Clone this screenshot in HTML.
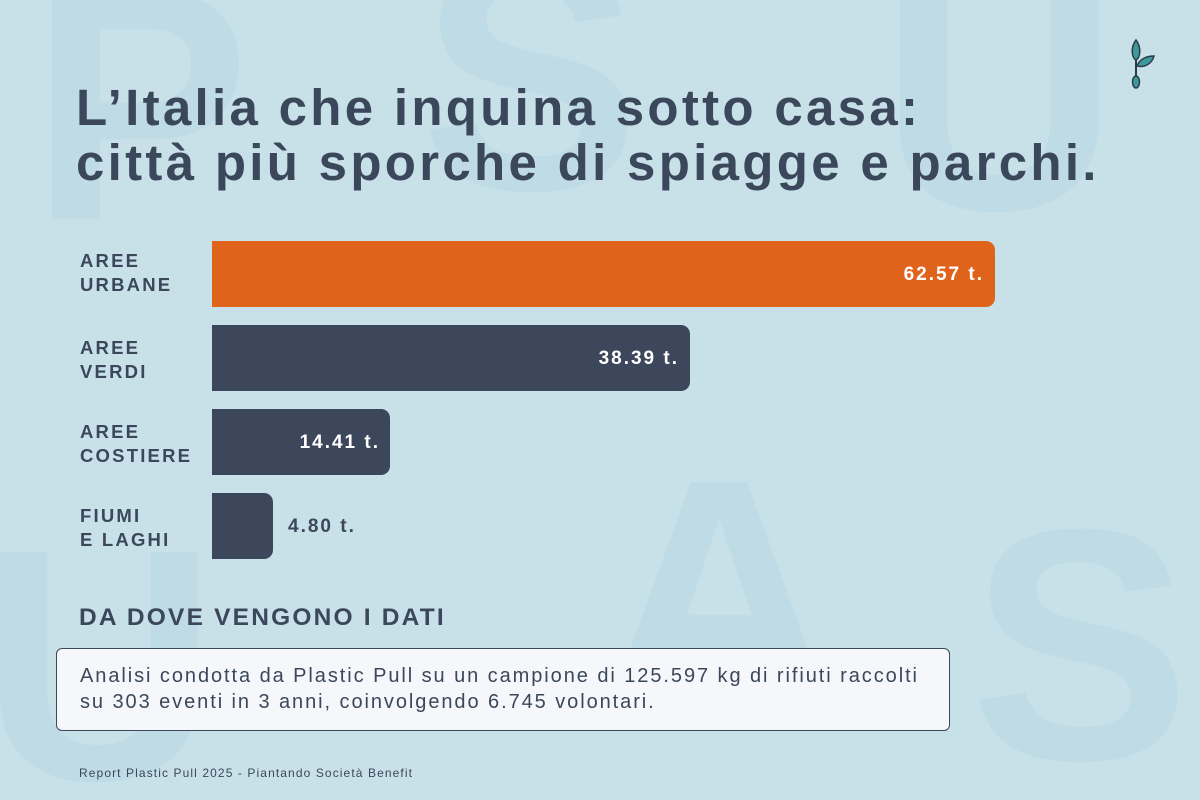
<!DOCTYPE html>
<html><head><meta charset="utf-8"><style>
body{margin:0;}
#c{position:relative;width:1200px;height:800px;overflow:hidden;background:#c8e1e9;font-family:"Liberation Sans",sans-serif;color:#3b475a;}
.bg{position:absolute;color:#bfdbe5;font-weight:bold;font-size:330px;line-height:1;}
.t{position:absolute;left:76px;font-weight:bold;font-size:51px;letter-spacing:3.3px;white-space:nowrap;}
.lab{position:absolute;left:80px;font-weight:bold;font-size:18.5px;line-height:24px;letter-spacing:2.2px;}
.bar{position:absolute;left:212px;height:66px;background:#3d475b;border-radius:0 9px 9px 0;}
.v{position:absolute;font-weight:bold;font-size:19px;color:#fff;line-height:68px;letter-spacing:2px;}
</style></head><body><div id="c">
<div class="bg" style="left:30px;top:-60px">P</div>
<div class="bg" style="left:420px;top:-90px">S</div>
<div class="bg" style="left:880px;top:-70px">U</div>
<div class="bg" style="left:-20px;top:500px">U</div>
<div class="bg" style="left:600px;top:430px">A</div>
<div class="bg" style="left:970px;top:480px">S</div>
<svg style="position:absolute;left:1126px;top:38px" width="32" height="52" viewBox="0 0 32 52"><path d="M10 2 C4 10 6 20 10 22 C14 20 16 10 10 2Z" fill="#3e9a9a" stroke="#2b3a48" stroke-width="1.5"/><path d="M10 22 V40" stroke="#2b3a48" stroke-width="2"/><path d="M11 28 C14 20 22 18 28 18 C26 26 18 30 11 28Z" fill="#3e9a9a" stroke="#2b3a48" stroke-width="1.5"/><ellipse cx="10" cy="44" rx="3.5" ry="6" fill="#3e9a9a" stroke="#2b3a48" stroke-width="1.5"/></svg>
<div class="t" style="top:78px">L’Italia che inquina sotto casa:</div>
<div class="t" style="top:133px">città più sporche di spiagge e parchi.</div>
<div class="lab" style="top:249px">AREE<br>URBANE</div>
<div class="lab" style="top:336px">AREE<br>VERDI</div>
<div class="lab" style="top:420px">AREE<br>COSTIERE</div>
<div class="lab" style="top:504px">FIUMI<br>E LAGHI</div>
<div class="bar" style="top:241px;width:783px;background:#e0631c"></div>
<div class="v" style="top:241px;right:216px">62.57 t.</div>
<div class="bar" style="top:325px;width:478px"></div>
<div class="v" style="top:325px;right:521px">38.39 t.</div>
<div class="bar" style="top:409px;width:178px"></div>
<div class="v" style="top:409px;right:820px">14.41 t.</div>
<div class="bar" style="top:493px;width:61px"></div>
<div class="v" style="top:493px;left:288px;color:#3b475a">4.80 t.</div>
<div style="position:absolute;left:79px;top:604px;font-weight:bold;font-size:24.5px;letter-spacing:2.2px">DA DOVE VENGONO I DATI</div>
<div style="position:absolute;left:56px;top:648px;width:894px;height:83px;background:#f6f7fa;border:1px solid #3b475a;border-radius:6px;box-sizing:border-box;padding:14px 0 0 23px;font-size:20px;line-height:26px;letter-spacing:1.93px;white-space:nowrap">Analisi condotta da Plastic Pull su un campione di 125.597 kg di rifiuti raccolti<br>su 303 eventi in 3 anni, coinvolgendo 6.745 volontari.</div>
<div style="position:absolute;left:79px;top:766px;font-size:12px;letter-spacing:1.1px">Report Plastic Pull 2025 - Piantando Società Benefit</div>
</div></body></html>
